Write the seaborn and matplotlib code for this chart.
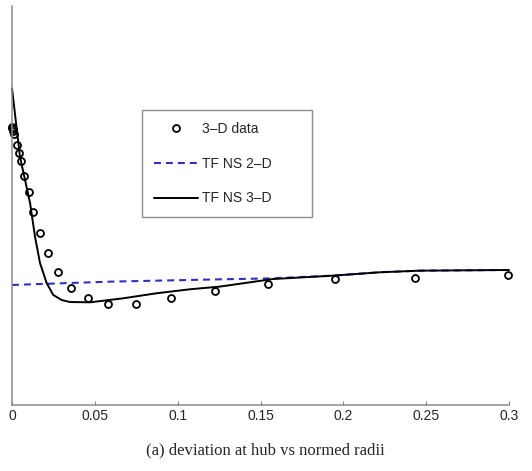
import numpy as np
import pandas as pd
import matplotlib
matplotlib.use("Agg")
import matplotlib.pyplot as plt
import seaborn as sns

sns.set_style("white")
plt.rcParams['font.family'] = ['Liberation Sans', 'DejaVu Sans']
plt.rcParams['lines.scale_dashes'] = False

# measured data (x = normed radius, y = deviation, arbitrary units)
data_x = [0.0, 0.0003, 0.0006, 0.0009, 0.0012, 0.0028, 0.0044, 0.0056, 0.0072,
          0.0101, 0.0129, 0.0169, 0.0219, 0.0280, 0.0356, 0.0456, 0.058,
          0.0749, 0.096, 0.1225, 0.1547, 0.195, 0.2432, 0.2992]
data_y = [27.95, 27.85, 27.7, 27.5, 27.2, 26.13, 25.36, 24.48, 23.02,
          21.38, 19.43, 17.27, 15.25, 13.4, 11.73, 10.75, 10.2,
          10.2, 10.75, 11.46, 12.13, 12.63, 12.79, 13.07]

# TF NS 2-D
ns2d_x = [0.0, 0.0169, 0.06, 0.1255, 0.155, 0.1938, 0.2221, 0.2463, 0.3]
ns2d_y = [12.06, 12.16, 12.4, 12.63, 12.72, 13.0, 13.34, 13.5, 13.57]

# TF NS 3-D
ns3d_x = [0.0, 0.0048, 0.0109, 0.0139, 0.0169, 0.0209, 0.0249, 0.030, 0.035,
          0.0471, 0.067, 0.0873, 0.1074, 0.1255, 0.1575, 0.1938, 0.2221,
          0.2463, 0.3]
ns3d_y = [31.83, 24.96, 20.30, 16.91, 14.27, 12.26, 11.06, 10.55, 10.35,
          10.32, 10.72, 11.23, 11.63, 11.9, 12.66, 13.0, 13.34, 13.5, 13.57]

xticks = [0, 0.05, 0.1, 0.15, 0.2, 0.25, 0.3]
xticklabels = ['0', '0.05', '0.1', '0.15', '0.2', '0.25', '0.3']

W, H = 532, 471
fig = plt.figure(figsize=(W / 100, H / 100), dpi=100)
ax = fig.add_axes([12 / W, 1 - 405 / H, (509 - 12) / W, (405 - 6) / H])

df2 = pd.DataFrame({'x': ns2d_x, 'y': ns2d_y})
df3 = pd.DataFrame({'x': ns3d_x, 'y': ns3d_y})
dfd = pd.DataFrame({'x': data_x, 'y': data_y})

sns.lineplot(data=df2, x='x', y='y', ax=ax, color='#2f2fd0', lw=1.5,
             sort=False, estimator=None)
ax.lines[-1].set_dashes((5, 3.6))
l2 = ax.lines[-1]
sns.lineplot(data=df3, x='x', y='y', ax=ax, color='black', lw=1.4,
             sort=False, estimator=None)
l3 = ax.lines[-1]
sns.lineplot(data=dfd, x='x', y='y', ax=ax, color='black', sort=False,
             estimator=None, marker='o', linestyle='none', markersize=5,
             markerfacecolor='none', markeredgecolor='black',
             markeredgewidth=1.3)
ld = ax.lines[-1]
ld.set_clip_on(False)
l3.set_clip_on(False)

ax.set_xlim(0, 0.3)
ax.set_ylim(0, 40.1)
ax.set_xlabel('')
ax.set_ylabel('')
ax.set_yticks([])
ax.set_xticks(xticks)
ax.set_xticklabels(xticklabels, fontsize=10)
ax.tick_params(axis='x', direction='in', length=3, width=0.8,
               color='#888888', pad=3, bottom=True)
for side in ['top', 'right']:
    ax.spines[side].set_visible(False)
for side in ['left', 'bottom']:
    ax.spines[side].set_color('#8c8c8c')
    ax.spines[side].set_linewidth(1.1)

leg = ax.legend([ld, l2, l3], ['3–D data', 'TF NS 2–D', 'TF NS 3–D'],
                loc='upper left',
                bbox_to_anchor=(142 / W, 1 - 110 / H, (312 - 142) / W, 0.0),
                bbox_transform=fig.transFigure, mode='expand',
                borderaxespad=0.0,
                fontsize=10, handlelength=3.2, handletextpad=0.3,
                labelspacing=1.5, borderpad=0.85, fancybox=False,
                framealpha=1, edgecolor='#8c8c8c')
leg.get_frame().set_linewidth(1.0)

fig.text(265 / W, 1 - 450 / H, '(a) deviation at hub vs normed radii',
         ha='center', va='center', fontsize=12, family='Liberation Serif')

fig.savefig('out.png', dpi=100)
